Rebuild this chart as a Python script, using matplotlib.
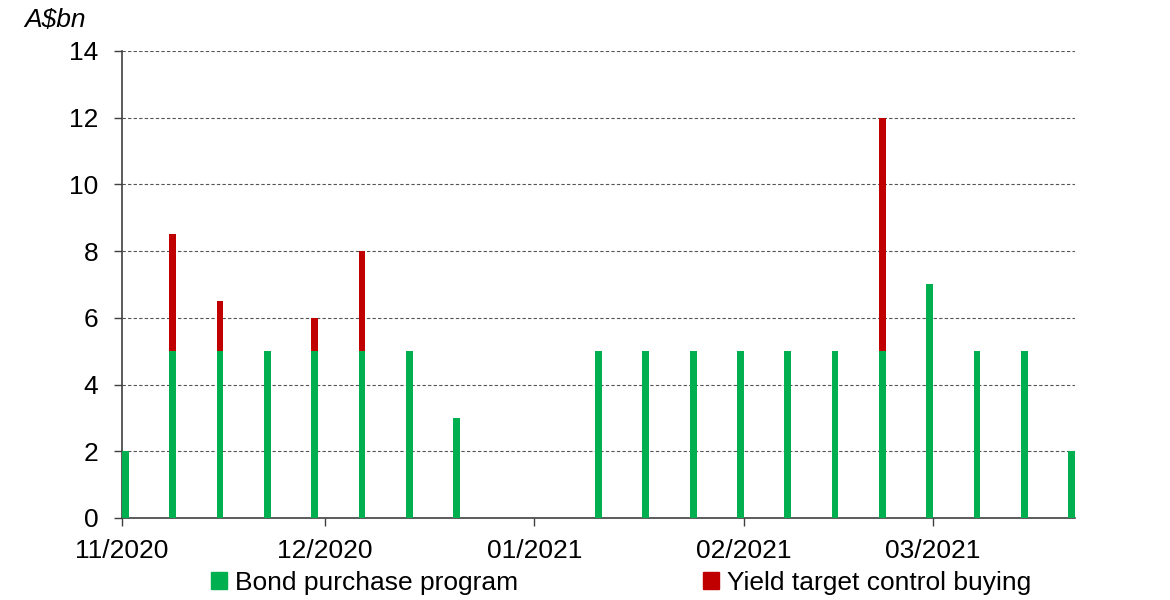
import matplotlib
matplotlib.use("Agg")
import matplotlib.pyplot as plt
import matplotlib.patches as mpatches
import pandas as pd
import numpy as np

plt.rcParams['font.family'] = ['Liberation Sans', 'DejaVu Sans']

weeks = pd.date_range("2020-11-01", "2021-03-21", freq="7D")
bond_purchase = [2, 5, 5, 5, 5, 5, 5, 3, 0, 0, 5, 5, 5, 5, 5, 5, 5, 7, 5, 5, 2]
ytc_buying = [0, 3.5, 1.5, 0, 1, 3, 0, 0, 0, 0, 0, 0, 0, 0, 0, 0, 7, 0, 0, 0, 0]
month_ticks = pd.to_datetime(["2020-11-01", "2020-12-01", "2021-01-01", "2021-02-01", "2021-03-01"])
month_labels = ["11/2020", "12/2020", "01/2021", "02/2021", "03/2021"]
series_names = ["Bond purchase program", "Yield target control buying"]

GREEN = "#00B050"
RED = "#C00000"
FS = 19

fig = plt.figure(figsize=(11.7, 6.0), dpi=100)
ax = fig.add_axes([0.1043, 0.1367, 0.8145, 0.7783])

x = weeks + pd.Timedelta(hours=12)
ax.bar(x, bond_purchase, width=1.0, color=GREEN, zorder=3)
ax.bar(x, ytc_buying, width=1.0, bottom=bond_purchase, color=RED, zorder=3)

ax.set_ylim(0, 14)
ax.set_yticks(np.arange(0, 15, 2))
ax.set_xlim(pd.Timestamp("2020-11-01"), pd.Timestamp("2021-03-22"))
ax.set_xticks(month_ticks)
ax.set_xticklabels(month_labels)

ax.yaxis.grid(True, linestyle=(0, (3, 2)), color="#555555", linewidth=0.8, zorder=0)
ax.set_axisbelow(True)
for s in ["top", "right"]:
    ax.spines[s].set_visible(False)
for s in ["left", "bottom"]:
    ax.spines[s].set_color("#404040")
    ax.spines[s].set_linewidth(1.2)
ax.tick_params(axis="y", direction="out", length=6, width=1, color="#404040",
               labelsize=FS, pad=11)
ax.tick_params(axis="x", direction="out", length=6, width=1, color="#404040",
               labelsize=FS, pad=9)

fig.text(0.021, 0.967, "A$bn", fontsize=FS, style="italic", ha="left", va="center")

handles = [mpatches.Patch(color=GREEN, label=series_names[0]),
           mpatches.Patch(color=RED, label=series_names[1])]
fig.legend(handles=handles, loc="center", bbox_to_anchor=(0.531, 0.029), ncol=2,
           frameon=False, fontsize=FS, handlelength=0.6, handleheight=0.6,
           handletextpad=0.3, columnspacing=7.0, borderaxespad=0, borderpad=0)

fig.savefig("out.png", dpi=100)
